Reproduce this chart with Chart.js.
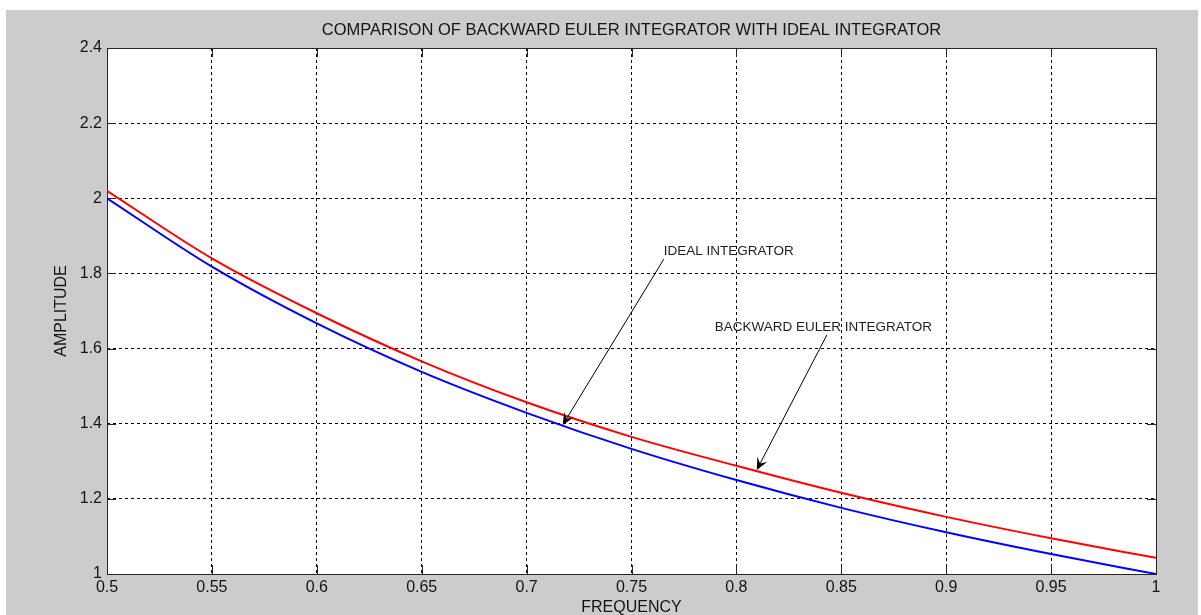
<!DOCTYPE html>
<html lang="en">
<head>
    <meta charset="UTF-8">
    <title>Backward Euler vs Ideal Integrator</title>
    <script src="https://cdn.jsdelivr.net/npm/chart.js"></script>
    <style>
        html, body { margin: 0; padding: 0; background: #fff; }
        canvas { display: block; }
    </style>
</head>
<body>
    <canvas id="integratorChart" width="1201" height="615"></canvas>

    <script>
        // values
        const freq = [0.5, 0.55, 0.6, 0.65, 0.7, 0.75, 0.8, 0.85, 0.9, 0.95, 1];
        const ideal = [2.0, 1.818, 1.667, 1.538, 1.429, 1.333, 1.25, 1.176, 1.111, 1.053, 1.0];
        const backwardEuler = [2.02, 1.84, 1.694, 1.566, 1.457, 1.365, 1.288, 1.216, 1.152, 1.095, 1.043];

        const xRange = [0.5, 1];
        const xStep = 0.05;
        const yRange = [1, 2.4];
        const yStep = 0.2;

        const titleText = 'COMPARISON OF BACKWARD EULER INTEGRATOR WITH IDEAL INTEGRATOR';
        const xLabel = 'FREQUENCY';
        const yLabel = 'AMPLITUDE';

        // text arrows, in data units
        const notes = [
            { text: 'IDEAL INTEGRATOR', at: [0.7654, 1.8597], from: [0.7654, 1.838], to: [0.7172, 1.3966] },
            { text: 'BACKWARD EULER INTEGRATOR', at: [0.7897, 1.657], from: [0.8431, 1.636], to: [0.8097, 1.2768] }
        ];

        const FONT = '"Liberation Sans", Arial, sans-serif';
        Chart.defaults.font.family = FONT;
        Chart.defaults.color = '#141414';

        const fmt = v => String(Number(v.toFixed(2)));

        const matlabLook = {
            id: 'matlabLook',
            beforeDraw(chart) {
                const { ctx, chartArea: a, width, height } = chart;
                ctx.save();
                ctx.fillStyle = '#ffffff';
                ctx.fillRect(0, 0, width, height);
                ctx.fillStyle = '#cccccc';
                ctx.fillRect(6, 10, width - 9, height - 10);
                ctx.fillStyle = '#ffffff';
                ctx.fillRect(a.left, a.top, a.right - a.left, a.bottom - a.top);
                ctx.restore();
            },
            beforeDatasetsDraw(chart) {
                const { ctx, chartArea: a, scales: { x, y } } = chart;
                const len = 9;
                ctx.save();
                ctx.strokeStyle = '#262626';
                ctx.lineWidth = 1;
                ctx.beginPath();
                x.ticks.forEach(t => {
                    const px = Math.round(x.getPixelForValue(t.value)) + 0.5;
                    ctx.moveTo(px, a.bottom); ctx.lineTo(px, a.bottom - len);
                    ctx.moveTo(px, a.top); ctx.lineTo(px, a.top + len);
                });
                y.ticks.forEach(t => {
                    const py = Math.round(y.getPixelForValue(t.value)) + 0.5;
                    ctx.moveTo(a.left, py); ctx.lineTo(a.left + len, py);
                    ctx.moveTo(a.right, py); ctx.lineTo(a.right - len, py);
                });
                ctx.stroke();
                ctx.strokeRect(Math.round(a.left) + 0.5, Math.round(a.top) + 0.5,
                    Math.round(a.right - a.left), Math.round(a.bottom - a.top));
                ctx.restore();
            },
            afterDatasetsDraw(chart) {
                const { ctx, scales: { x, y } } = chart;
                ctx.save();
                ctx.font = '13.5px ' + FONT;
                ctx.textAlign = 'left';
                ctx.textBaseline = 'middle';
                notes.forEach(n => {
                    ctx.fillStyle = '#1e1e1e';
                    ctx.fillText(n.text, x.getPixelForValue(n.at[0]), y.getPixelForValue(n.at[1]));

                    const x0 = x.getPixelForValue(n.from[0]), y0 = y.getPixelForValue(n.from[1]);
                    const x1 = x.getPixelForValue(n.to[0]), y1 = y.getPixelForValue(n.to[1]);
                    const ang = Math.atan2(y1 - y0, x1 - x0);
                    const L = 12, W = 5.5;
                    const bx = x1 - L * Math.cos(ang), by = y1 - L * Math.sin(ang);
                    const nx = x1 - 0.6 * L * Math.cos(ang), ny = y1 - 0.6 * L * Math.sin(ang);

                    ctx.strokeStyle = '#000';
                    ctx.lineWidth = 1;
                    ctx.beginPath();
                    ctx.moveTo(x0, y0);
                    ctx.lineTo(nx, ny);
                    ctx.stroke();

                    ctx.fillStyle = '#000';
                    ctx.beginPath();
                    ctx.moveTo(x1, y1);
                    ctx.lineTo(bx + W * Math.sin(ang), by - W * Math.cos(ang));
                    ctx.lineTo(nx, ny);
                    ctx.lineTo(bx - W * Math.sin(ang), by + W * Math.cos(ang));
                    ctx.closePath();
                    ctx.fill();
                });
                ctx.restore();
            }
        };

        const ctx = document.getElementById('integratorChart').getContext('2d');

        const chart = new Chart(ctx, {
            type: 'line',
            data: {
                datasets: [{
                    label: 'IDEAL INTEGRATOR',
                    data: freq.map((f, i) => ({ x: f, y: ideal[i] })),
                    borderColor: '#0000ff',
                    borderWidth: 2,
                    pointRadius: 0,
                    cubicInterpolationMode: 'monotone',
                    fill: false
                }, {
                    label: 'BACKWARD EULER INTEGRATOR',
                    data: freq.map((f, i) => ({ x: f, y: backwardEuler[i] })),
                    borderColor: '#ff0000',
                    borderWidth: 2,
                    pointRadius: 0,
                    cubicInterpolationMode: 'monotone',
                    fill: false
                }]
            },
            options: {
                responsive: false,
                animation: false,
                devicePixelRatio: 1,
                layout: { padding: { left: 0, top: 0, right: 45, bottom: 0 } },
                plugins: {
                    legend: { display: false },
                    tooltip: { enabled: false },
                    title: {
                        display: true,
                        text: titleText,
                        fullSize: false,
                        color: '#141414',
                        font: { size: 16.5, weight: 'normal', lineHeight: 1.2 },
                        padding: { top: 20.1, bottom: 8.1 }
                    }
                },
                scales: {
                    x: {
                        type: 'linear',
                        min: xRange[0],
                        max: xRange[1],
                        afterFit: s => { s.height = 41; },
                        ticks: {
                            stepSize: xStep,
                            padding: 4,
                            font: { size: 16 },
                            maxRotation: 0,
                            autoSkip: false,
                            callback: v => fmt(v)
                        },
                        grid: { color: '#000', lineWidth: 1, drawTicks: false },
                        border: { display: false, dash: [3, 3] },
                        title: {
                            display: true,
                            text: xLabel,
                            font: { size: 16, lineHeight: 0.875 },
                            padding: { top: 0, bottom: 0 }
                        }
                    },
                    y: {
                        type: 'linear',
                        min: yRange[0],
                        max: yRange[1],
                        afterFit: s => { s.width = 107; },
                        ticks: {
                            stepSize: yStep,
                            padding: 5,
                            font: { size: 16 },
                            callback: v => fmt(v)
                        },
                        grid: { color: '#000', lineWidth: 1, drawTicks: false },
                        border: { display: false, dash: [3, 3] },
                        title: {
                            display: true,
                            text: yLabel,
                            font: { size: 16, lineHeight: 1.2 },
                            padding: { top: 52, bottom: 0 }
                        }
                    }
                }
            },
            plugins: [matlabLook]
        });
    </script>
</body>
</html>
